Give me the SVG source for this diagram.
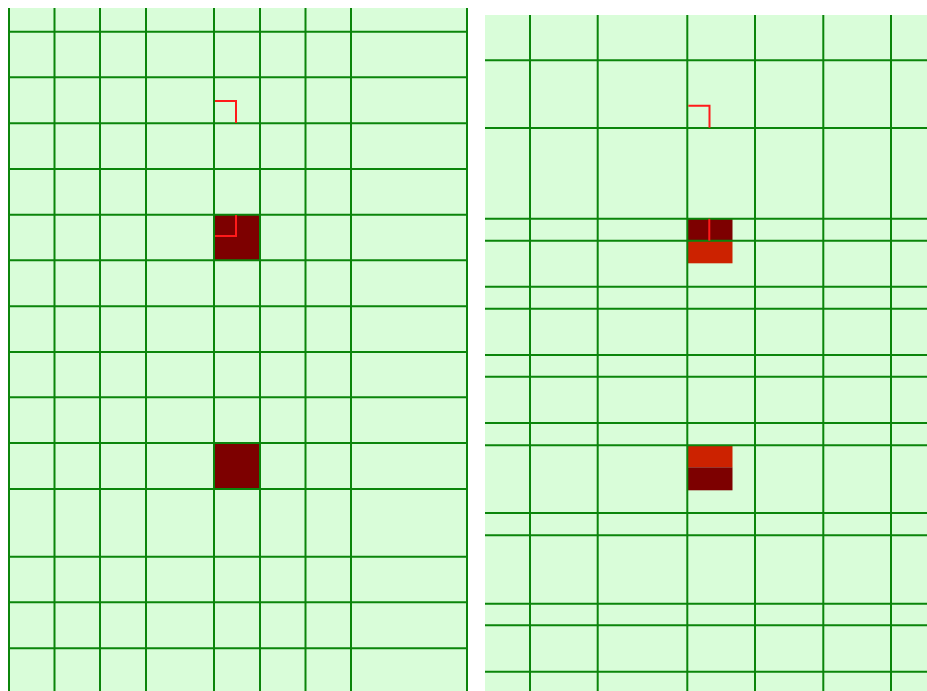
<svg xmlns="http://www.w3.org/2000/svg" width="927" height="691" viewBox="0 0 927 691">
<style>
.bg{fill:#d9fdd9}
.g{stroke:#0b850b;stroke-width:2;fill:none}
.r{stroke:#ff1a1a;stroke-width:2;fill:none}
.dk{fill:#7d0000}
.or{fill:#cc2200}
</style>
<rect width="927" height="691" fill="#ffffff"/>
<g id="left-panel">
<rect class="bg" x="8" y="8" width="460" height="683"/>
<rect class="dk" x="214" y="215" width="46" height="45"/>
<rect class="dk" x="214" y="443" width="46" height="46"/>
<g class="g">
<path d="M9 8V691M54.5 8V691M100 8V691M146 8V691M214 8V691M260 8V691M305.5 8V691M351 8V691M467 8V691"/>
<path d="M8 31.7H468M8 77.3H468M8 123.3H468M8 169H468M8 214.7H468M8 260.3H468M8 306.3H468M8 352H468M8 397.3H468M8 443H468M8 489H468M8 556.7H468M8 602.3H468M8 648.3H468"/>
</g>
<path class="r" d="M215 101H236V123M236 215V236H215"/>
</g>
<g id="right-panel">
<rect class="bg" x="485" y="15" width="442" height="676"/>
<rect class="dk" x="687.5" y="218.7" width="45" height="22"/>
<rect class="or" x="687.5" y="240.7" width="45" height="22.6"/>
<rect class="or" x="687.5" y="445.3" width="45" height="22"/>
<rect class="dk" x="687.5" y="467.3" width="45" height="23"/>
<g class="g">
<path d="M530 15V691M597.7 15V691M687.3 15V691M755 15V691M823.3 15V691M891 15V691"/>
<path d="M485 60.3H927M485 128H927M485 218.7H927M485 240.7H927M485 286.7H927M485 308.7H927M485 355H927M485 376.7H927M485 423H927M485 445.3H927M485 513H927M485 535.3H927M485 603.7H927M485 625.3H927M485 671.7H927"/>
</g>
<path class="r" d="M688.3 105.7H709.5V127.7M709.3 218.7V240.7"/>
</g>
</svg>
